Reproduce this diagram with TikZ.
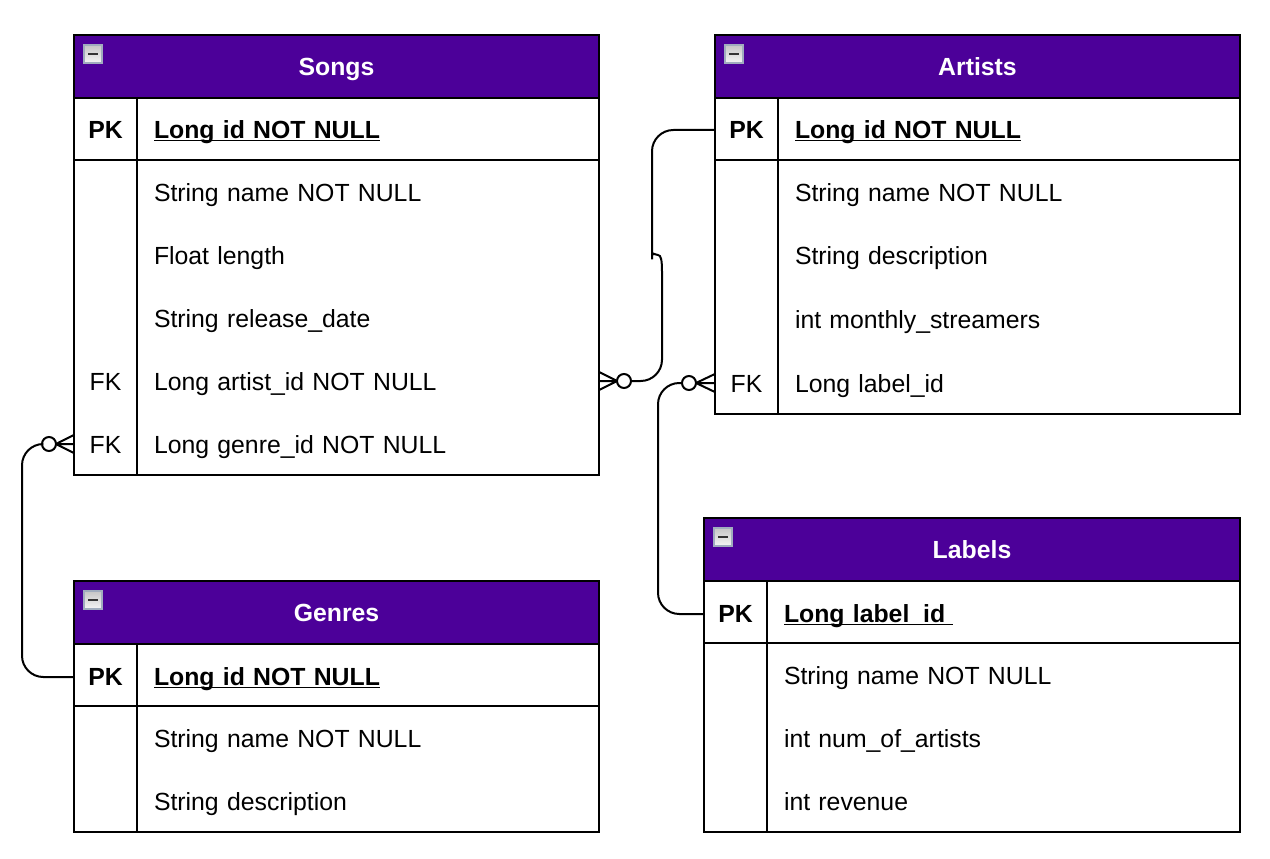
\documentclass[tikz,border=0pt]{standalone}
\usepackage{fontspec}
\setmainfont[WordSpace=0.85]{Liberation Sans}
\definecolor{headpurple}{RGB}{76,0,153}
\definecolor{iconedge}{RGB}{160,172,190}
\newcommand{\tablefont}{\fontsize{18.6}{20}\selectfont}
\newcommand{\keyline}[1]{\underline{\smash{#1}}}
\tikzset{
	tablebox/.style={draw,line width=1.5pt,inner sep=0pt,outer sep=0pt,anchor=north west},
	headbox/.style={tablebox,fill=headpurple,text=white,font=\tablefont\bfseries,minimum height=47.25pt,
		text height=17pt,text depth=4.2pt},
	cell/.style={inner sep=0pt,outer sep=0pt,text height=17pt,text depth=4.2pt},
	keycell/.style={cell,minimum width=47.25pt,minimum height=47.25pt},
	fieldcell/.style={cell,minimum height=47.25pt,align=left,inner xsep=12.75pt,text width=#1*.75pt},
	toggle/.style={draw=iconedge,line width=1.2pt,inner sep=0pt,minimum size=13.5pt,outer sep=0pt,
		top color=gray!45,bottom color=gray!8,path picture={
		\draw[line width=1pt,black!80]([xshift=3pt]path picture bounding box.west)--([xshift=-3pt]path picture bounding box.east);}},
	relline/.style={line width=1.5pt},
	zeroring/.style={draw,circle,line width=1.5pt,fill=white,minimum size=10.5pt,inner sep=0pt,outer sep=0pt}
}
\begin{document}
\begin{tikzpicture}[x=.75pt,y=-.75pt,font=\tablefont]
	\useasboundingbox[fill=white](0,0) rectangle (1270,859);
	% table frames and headers
	\foreach \tab/\x/\y/\w/\h/\keyx/\title in {songs/74/35/525/440/137/Songs,artists/715/35/525/379/778/Artists,genres/74/581/525/251/137/Genres,labels/704/518/536/314/767/Labels}{
		\node[tablebox,minimum width=\w*.75pt,minimum height=\h*.75pt](\tab) at(\x,\y){};
		\node[headbox,minimum width=\w*.75pt](\tab-head) at(\x,\y){\title};
		\node[toggle](\tab-toggle) at(\x+19,\y+19){};
		\draw[line width=1.5pt](\tab.north west-|\keyx,0)++(0,62)--(\tab.south west-|\keyx,0);
		\draw[line width=1.5pt](\x,\y+125)--(\x+\w,\y+125);
	}
	% primary key rows
	\foreach \tab/\x/\y/\w/\txt in {songs/74/130/428/Long id NOT NULL,artists/715/130/428/Long id NOT NULL,genres/74/677/428/Long id NOT NULL,labels/704/614/439/Long label\_id\ }{
		\node[keycell,font=\tablefont\bfseries](\tab-pk) at(\x+31.5,\y){PK};
		\node[fieldcell=\w,anchor=west,font=\tablefont\bfseries](\tab-pkfield) at(\x+63,\y){\keyline{\txt}};
	}
	% plain rows
	\foreach \tab/\x/\y/\w/\name/\key/\txt in {
		songs/74/193/428/name//String name NOT NULL,
		songs/74/256/428/length//Float length,
		songs/74/319/428/date//String release\_date,
		songs/74/382/428/artist/FK/Long artist\_id NOT NULL,
		songs/74/445/428/genre/FK/Long genre\_id NOT NULL,
		artists/715/193/428/name//String name NOT NULL,
		artists/715/256/428/desc//String description,
		artists/715/320/428/streamers//int monthly\_streamers,
		artists/715/384/428/label/FK/Long label\_id,
		genres/74/739/428/name//String name NOT NULL,
		genres/74/802/428/desc//String description,
		labels/704/676/439/name//String name NOT NULL,
		labels/704/739/439/num//int num\_of\_artists,
		labels/704/802/439/revenue//int revenue}{
		\node[keycell](\tab-\name-key) at(\x+31.5,\y){\key};
		\node[fieldcell=\w,anchor=west](\tab-\name) at(\x+63,\y){\txt};
	}
	% relationships
	\node[zeroring](songs-ring) at(624,381){};
	\node[zeroring](artists-ring) at(689,383){};
	\node[zeroring](genre-ring) at(49,444){};
	\draw[relline,rounded corners=16pt](artists-pk.west)--(652,130)--(652,238)[sharp corners]
		.. controls (652,250) and (654,255) .. (658,255)
		.. controls (661,255) and (662,260) .. (662,272)
		[rounded corners=16pt]--(662,381)--(songs-ring.east);
	\draw[relline,rounded corners=16pt](labels-pk.west)--(658,614)--(658,383)--(artists-ring.west);
	\draw[relline,rounded corners=16pt](genres-pk.west)--(22,677)--(22,444)--(genre-ring.west);
	% crow feet
	\coordinate(songs-edge) at(songs.east|-songs-ring);
	\coordinate(artists-edge) at(artists.west|-artists-ring);
	\coordinate(genre-edge) at(songs.west|-genre-ring);
	\draw[relline](songs-ring.west)--(songs-edge)
		(songs-ring.west)--([yshift=6.8pt]songs-edge)
		(songs-ring.west)--([yshift=-6.8pt]songs-edge);
	\draw[relline](artists-ring.east)--(artists-edge)
		(artists-ring.east)--([yshift=6.8pt]artists-edge)
		(artists-ring.east)--([yshift=-6.8pt]artists-edge);
	\draw[relline](genre-ring.east)--(genre-edge)
		(genre-ring.east)--([yshift=6.8pt]genre-edge)
		(genre-ring.east)--([yshift=-6.8pt]genre-edge);
\end{tikzpicture}
\end{document}
